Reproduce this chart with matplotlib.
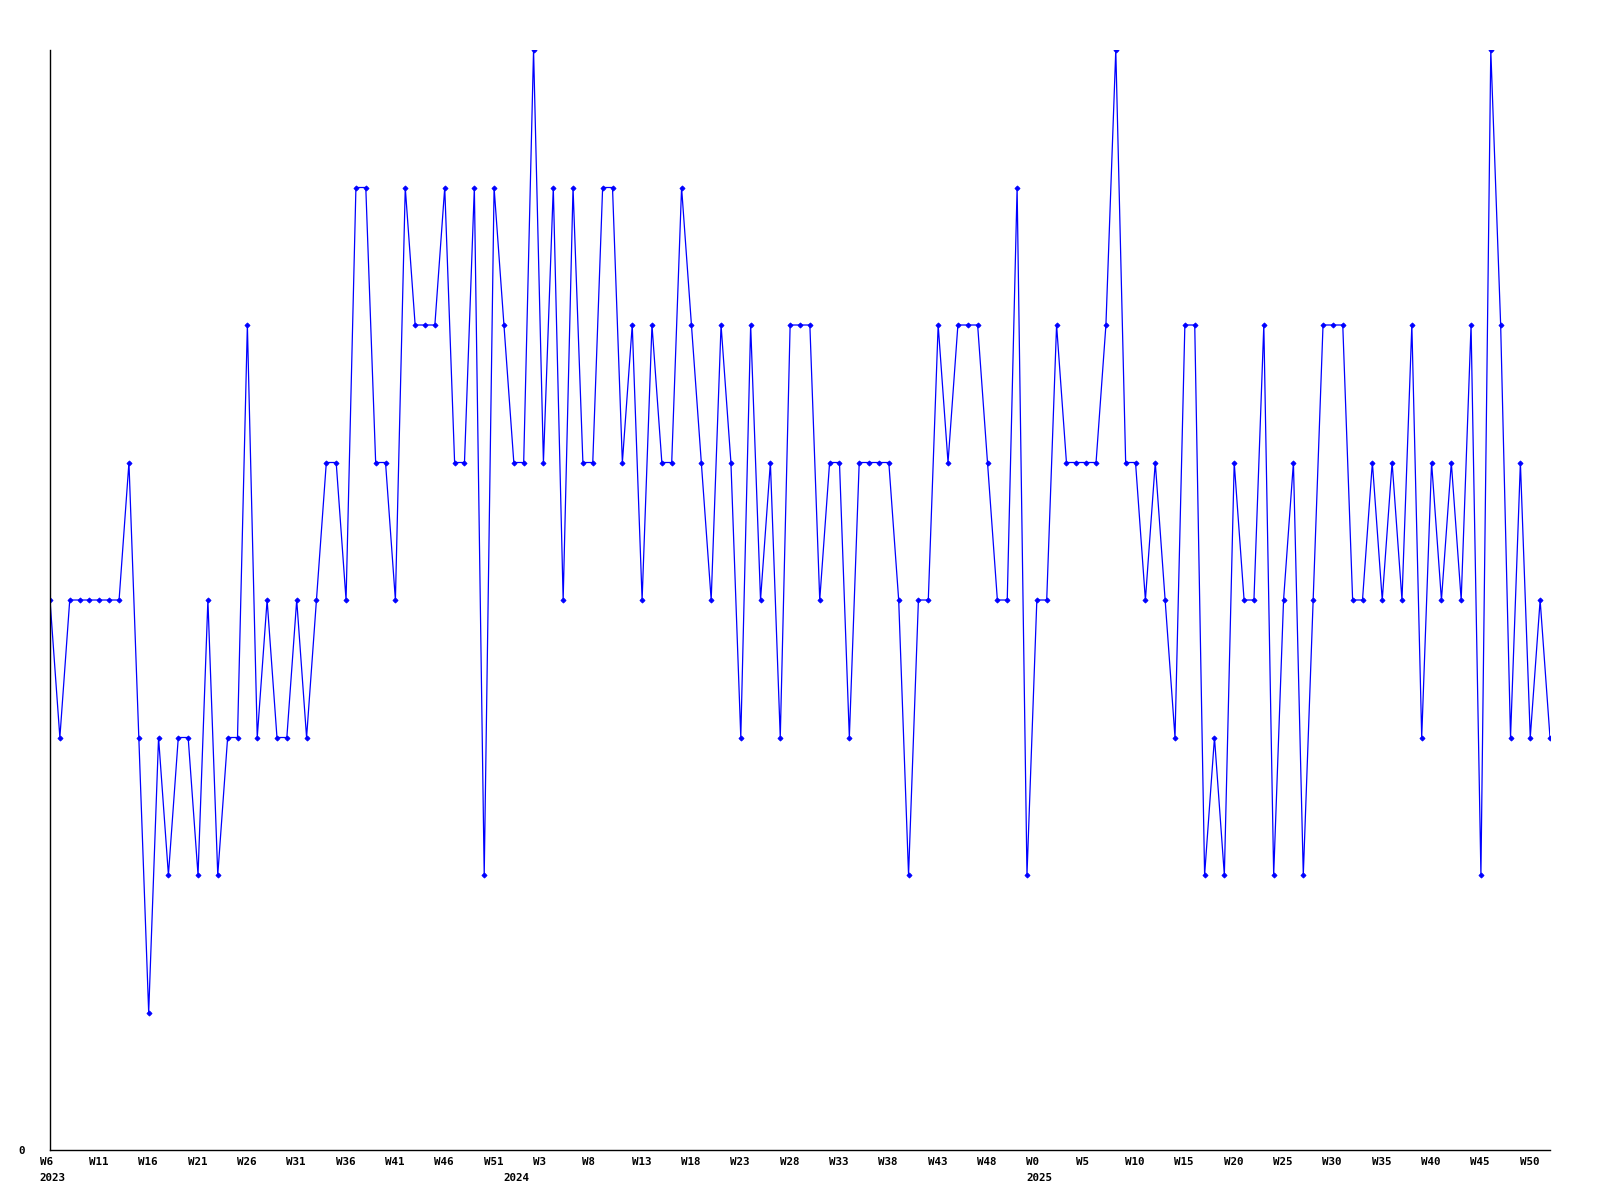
import matplotlib
matplotlib.use("Agg")
import matplotlib.pyplot as plt
from matplotlib import transforms

# Data: one value per week, 2023 W6 .. 2025 W52
values_2023 = [4, 3, 4, 4, 4, 4, 4, 4, 5, 3, 1, 3, 2, 3, 3, 2, 4, 2, 3, 3,
               6, 3, 4, 3, 3, 4, 3, 4, 5, 5, 4, 7, 7, 5, 5, 4, 7, 6, 6, 6,
               7, 5, 5, 7, 2, 7, 6]
values_2024 = [5, 5, 8, 5, 7, 4, 7, 5, 5, 7, 7, 5, 6, 4, 6, 5, 5, 7, 6, 5,
               4, 6, 5, 3, 6, 4, 5, 3, 6, 6, 6, 4, 5, 5, 3, 5, 5, 5, 5, 4,
               2, 4, 4, 6, 5, 6, 6, 6, 5, 4, 4, 7, 2]
values_2025 = [4, 4, 6, 5, 5, 5, 5, 6, 8, 5, 5, 4, 5, 4, 3, 6, 6, 2, 3, 2,
               5, 4, 4, 6, 2, 4, 5, 2, 4, 6, 6, 6, 4, 4, 5, 4, 5, 4, 6, 3,
               5, 4, 5, 4, 6, 2, 8, 6, 3, 5, 3, 4, 3]
weeks_2023 = list(range(6, 53))
weeks_2024 = list(range(0, 53))
weeks_2025 = list(range(0, 53))
years = ["2023", "2024", "2025"]

values = values_2023 + values_2024 + values_2025
week_labels = ["W%d" % w for w in weeks_2023 + weeks_2024 + weeks_2025]
x = list(range(len(values)))
year_starts = [0, len(weeks_2023), len(weeks_2023) + len(weeks_2024)]

fig = plt.figure(figsize=(16, 12), dpi=100)
ax = fig.add_axes([50 / 1600, 1 - 1150 / 1200, 1500 / 1600, 1100 / 1200])

ax.plot(x, values, color="#0000ff", lw=0.9, marker="D", markersize=2.6,
        markeredgewidth=0.6, markerfacecolor="#0000ff", markeredgecolor="#0000ff")

ax.set_xlim(0, len(values) - 1)
ax.set_ylim(0, 8)
for s in ["top", "right"]:
    ax.spines[s].set_visible(False)
for s in ["left", "bottom"]:
    ax.spines[s].set_color("black")
    ax.spines[s].set_linewidth(1.0)

font = dict(family="DejaVu Sans Mono", weight="bold", size=7.8)

# x ticks: positions only, labels drawn as text (left-aligned, shifted left)
tick_pos = x[::5]
ax.set_xticks(tick_pos)
ax.set_xticklabels([])
ax.set_yticks([0])
ax.set_yticklabels(["0"], fontdict=font)
ax.tick_params(axis="x", length=0)
ax.tick_params(axis="y", length=0, pad=18)

shift = transforms.ScaledTranslation(-10.5 / 100, 0, fig.dpi_scale_trans)
trans = transforms.blended_transform_factory(ax.transData, ax.transAxes) + shift
for i in tick_pos:
    ax.text(i, -0.0105, week_labels[i], transform=trans, ha="left",
            va="center", clip_on=False, **font)
for yr, start in zip(years, year_starts):
    ax.text(start, -0.0255, yr, transform=trans, ha="left", va="center",
            clip_on=False, **font)

fig.savefig("out.png", dpi=100, facecolor="white")
